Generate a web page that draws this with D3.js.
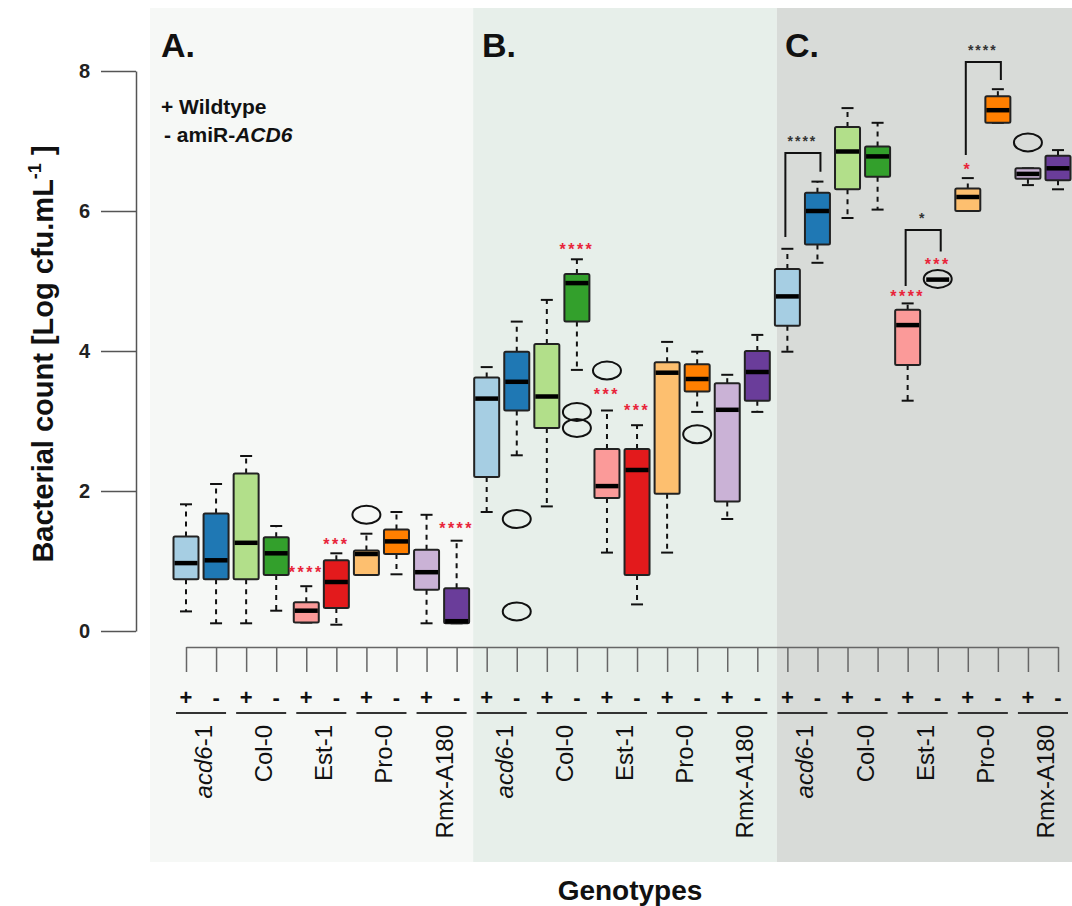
<!DOCTYPE html>
<html>
<head>
<meta charset="utf-8">
<script src="https://cdn.jsdelivr.net/npm/d3@7"></script>
<style>
  body { margin: 0; background: #fff; }
  svg { display: block; font-family: "Liberation Sans", Arial, sans-serif; }
</style>
</head>
<body>
<div id="chart"></div>
<script>
// one box per genotype x line, left to right (+ then - for each genotype)
const panels = ["A.", "B.", "C."];
const genotypes = ["acd6-1", "Col-0", "Est-1", "Pro-0", "Rmx-A180"];
const lines = ["+", "-"];
const colors = ["#a6cee3", "#1f78b4", "#b2df8a", "#33a02c", "#fb9a99",
  "#e31a1c", "#fdbf6f", "#ff7f00", "#cab2d6", "#6a3d9a"];

const whiskerLow = [0.28, 0.11, 0.11, 0.29, 0.12, 0.09, 0.80, 0.81, 0.11, 0.11,
  1.70, 2.51, 1.78, 3.73, 1.12, 0.38, 1.12, 3.13, 1.60, 3.13,
  3.99, 5.26, 5.90, 6.02, 3.29, 5.02, 6.00, 7.26, 6.37, 6.31];
const q1 = [0.74, 0.74, 0.74, 0.80, 0.12, 0.33, 0.80, 1.10, 0.59, 0.11,
  2.20, 3.15, 2.90, 4.42, 1.90, 0.80, 1.96, 3.42, 1.85, 3.29,
  4.36, 5.52, 6.31, 6.49, 3.80, 5.02, 6.00, 7.26, 6.46, 6.44];
const median = [0.97, 1.01, 1.26, 1.11, 0.29, 0.70, 1.10, 1.28, 0.84, 0.14,
  3.32, 3.56, 3.35, 4.97, 2.07, 2.30, 3.69, 3.60, 3.16, 3.70,
  4.78, 6.00, 6.85, 6.78, 4.37, 5.02, 6.20, 7.44, 6.53, 6.61];
const q3 = [1.35, 1.68, 2.25, 1.34, 0.41, 1.01, 1.15, 1.45, 1.16, 0.61,
  3.62, 3.99, 4.10, 5.10, 2.60, 2.60, 3.84, 3.81, 3.54, 4.00,
  5.17, 6.26, 7.20, 6.92, 4.59, 5.02, 6.32, 7.64, 6.61, 6.79];
const whiskerHigh = [1.81, 2.10, 2.50, 1.50, 0.64, 1.11, 1.39, 1.70, 1.66, 1.29,
  3.77, 4.42, 4.73, 5.31, 3.15, 2.94, 4.13, 3.99, 3.66, 4.23,
  5.46, 6.42, 7.47, 7.26, 4.68, 5.02, 6.47, 7.74, 6.61, 6.87];

// [box index, value]
const outliers = [[6, 1.66], [11, 1.60], [11, 0.28], [13, 3.13], [13, 2.90],
  [14, 3.72], [17, 2.81], [25, 5.03], [28, 6.98]];

// red stars: [box index, label, value]
const redStars = [[4, "****", 0.89], [5, "***", 1.29], [9, "****", 1.51],
  [13, "****", 5.50], [14, "***", 3.43], [15, "***", 3.20],
  [24, "****", 4.83], [25, "***", 5.28], [26, "*", 6.65]];

// black brackets: [left box, right box, top, left end, right end, label]
const brackets = [[20, 21, 6.83, 5.63, 6.56, "****"],
  [24, 25, 5.73, 4.93, 5.42, "*"],
  [26, 27, 8.13, 6.80, 7.87, "****"]];

const yTicks = [0, 2, 4, 6, 8];

const width = 1072, height = 906;
const n = whiskerLow.length;

const svg = d3.select("#chart").append("svg")
  .attr("width", width)
  .attr("height", height);

const x = d3.scaleLinear().domain([0, n - 1]).range([186, 1058]);
const y = d3.scaleLinear().domain([0, 8]).range([631, 71]);

// panel backgrounds
const panelBg = [
  { x0: 150, x1: x(9.55), fill: "#f6f8f6" },
  { x0: x(9.55), x1: x(19.65), fill: "#e7efea" },
  { x0: x(19.65), x1: width, fill: "#d8dbd8" }
];
svg.selectAll(".panel")
  .data(panelBg)
  .join("rect")
  .attr("x", (d) => d.x0)
  .attr("y", 8)
  .attr("width", (d) => d.x1 - d.x0)
  .attr("height", 854)
  .attr("fill", (d) => d.fill);

svg.selectAll(".plabel")
  .data(panels)
  .join("text")
  .attr("x", (d, i) => [161, 482, 785][i])
  .attr("y", 57)
  .attr("font-size", 34)
  .attr("font-weight", "bold")
  .attr("fill", "#111")
  .text((d) => d);

// legend
svg.append("text")
  .attr("x", 161).attr("y", 114)
  .attr("font-size", 21).attr("font-weight", "bold").attr("fill", "#111")
  .text("+ Wildtype");
const leg2 = svg.append("text")
  .attr("x", 164).attr("y", 142)
  .attr("font-size", 21).attr("font-weight", "bold").attr("fill", "#111");
leg2.append("tspan").text("- amiR-");
leg2.append("tspan").attr("font-style", "italic").text("ACD6");

// y axis
const yAxis = svg.append("g")
  .attr("transform", "translate(136,0)")
  .call(d3.axisLeft(y).tickValues(yTicks).tickSize(35).tickSizeOuter(0).tickPadding(11));
yAxis.select(".domain").attr("stroke", "#555").attr("stroke-width", 1.5);
yAxis.selectAll(".tick line").attr("stroke", "#555").attr("stroke-width", 1.5);
yAxis.selectAll(".tick text")
  .attr("font-size", 20).attr("font-weight", "bold").attr("fill", "#222")
  .attr("font-family", "'Liberation Sans', Arial, sans-serif");

const yTitle = svg.append("text")
  .attr("transform", "translate(53,354) rotate(-90)")
  .attr("text-anchor", "middle")
  .attr("font-size", 29).attr("font-weight", "bold").attr("fill", "#111");
yTitle.append("tspan").text("Bacterial count [Log cfu.mL");
yTitle.append("tspan").attr("font-size", 18).attr("dy", -12).text("-1");
yTitle.append("tspan").attr("dy", 12).text(" ]");

// x axis
const xAxis = svg.append("g")
  .attr("transform", "translate(0,647)")
  .call(d3.axisBottom(x).tickValues(d3.range(n)).tickSize(25).tickSizeOuter(0).tickFormat(""));
xAxis.select(".domain").attr("stroke", "#666").attr("stroke-width", 1.5);
xAxis.selectAll(".tick line").attr("stroke", "#666").attr("stroke-width", 1.5);

svg.selectAll(".pm")
  .data(d3.range(n))
  .join("text")
  .attr("x", (i) => x(i))
  .attr("y", 705)
  .attr("text-anchor", "middle")
  .attr("font-size", 22).attr("font-weight", "bold").attr("fill", "#111")
  .text((i) => lines[i % 2]);

const pairs = d3.range(n / 2);
svg.selectAll(".uline")
  .data(pairs)
  .join("line")
  .attr("x1", (g) => x(2 * g) - 10)
  .attr("x2", (g) => x(2 * g + 1) + 10)
  .attr("y1", 713).attr("y2", 713)
  .attr("stroke", "#333").attr("stroke-width", 2);

const gLabels = svg.selectAll(".glabel")
  .data(pairs)
  .join("text")
  .attr("transform", (g) => `translate(${(x(2 * g) + x(2 * g + 1)) / 2 + 11},725) rotate(-90)`)
  .attr("text-anchor", "end")
  .attr("font-size", 24).attr("fill", "#111");
gLabels.each(function (g) {
  const name = genotypes[g % genotypes.length];
  const t = d3.select(this);
  if (name === "acd6-1") {
    t.append("tspan").attr("font-style", "italic").text("acd6");
    t.append("tspan").text("-1");
  } else {
    t.text(name);
  }
});

svg.append("text")
  .attr("x", 630).attr("y", 900)
  .attr("text-anchor", "middle")
  .attr("font-size", 28).attr("font-weight", "bold").attr("fill", "#111")
  .text("Genotypes");

// boxes
const boxW = 25, capW = 12;
const boxes = svg.selectAll(".box")
  .data(d3.range(n))
  .join("g");

boxes.append("line")
  .attr("x1", (i) => x(i)).attr("x2", (i) => x(i))
  .attr("y1", (i) => y(q3[i])).attr("y2", (i) => y(whiskerHigh[i]))
  .attr("stroke", "#111").attr("stroke-width", 2).attr("stroke-dasharray", "5,5");
boxes.append("line")
  .attr("x1", (i) => x(i)).attr("x2", (i) => x(i))
  .attr("y1", (i) => y(q1[i])).attr("y2", (i) => y(whiskerLow[i]))
  .attr("stroke", "#111").attr("stroke-width", 2).attr("stroke-dasharray", "5,5");
boxes.append("line")
  .attr("x1", (i) => x(i) - capW / 2).attr("x2", (i) => x(i) + capW / 2)
  .attr("y1", (i) => y(whiskerHigh[i])).attr("y2", (i) => y(whiskerHigh[i]))
  .attr("stroke", "#111").attr("stroke-width", 2);
boxes.append("line")
  .attr("x1", (i) => x(i) - capW / 2).attr("x2", (i) => x(i) + capW / 2)
  .attr("y1", (i) => y(whiskerLow[i])).attr("y2", (i) => y(whiskerLow[i]))
  .attr("stroke", "#111").attr("stroke-width", 2);
boxes.append("rect")
  .attr("x", (i) => x(i) - boxW / 2)
  .attr("y", (i) => y(q3[i]))
  .attr("width", boxW)
  .attr("height", (i) => y(q1[i]) - y(q3[i]))
  .attr("rx", 1.5)
  .attr("fill", (i) => colors[i % colors.length])
  .attr("stroke", "#222").attr("stroke-width", 2);
boxes.append("line")
  .attr("x1", (i) => x(i) - boxW / 2 + 1).attr("x2", (i) => x(i) + boxW / 2 - 1)
  .attr("y1", (i) => y(median[i])).attr("y2", (i) => y(median[i]))
  .attr("stroke", "#000").attr("stroke-width", 4.5);

svg.selectAll(".outlier")
  .data(outliers)
  .join("ellipse")
  .attr("cx", (d) => x(d[0]))
  .attr("cy", (d) => y(d[1]))
  .attr("rx", 14).attr("ry", 9)
  .attr("fill", "none")
  .attr("stroke", "#111").attr("stroke-width", 2);

svg.selectAll(".rstar")
  .data(redStars)
  .join("text")
  .attr("x", (d) => x(d[0]))
  .attr("y", (d) => y(d[2]) + 9)
  .attr("text-anchor", "middle")
  .attr("font-size", 16).attr("font-weight", "bold")
  .attr("letter-spacing", 2.5)
  .attr("fill", "#e8253a")
  .text((d) => d[1]);

const br = svg.selectAll(".bracket")
  .data(brackets)
  .join("g");
br.append("path")
  .attr("d", (d) => `M${x(d[0]) - 2},${y(d[3])}V${y(d[2])}H${x(d[1]) + 3}V${y(d[4])}`)
  .attr("fill", "none").attr("stroke", "#111").attr("stroke-width", 2);
br.append("text")
  .attr("x", (d) => (x(d[0]) + x(d[1])) / 2)
  .attr("y", (d) => y(d[2]) - 7)
  .attr("text-anchor", "middle")
  .attr("font-size", 14).attr("font-weight", "bold")
  .attr("letter-spacing", 2)
  .attr("fill", "#333")
  .text((d) => d[5]);
</script>
</body>
</html>
